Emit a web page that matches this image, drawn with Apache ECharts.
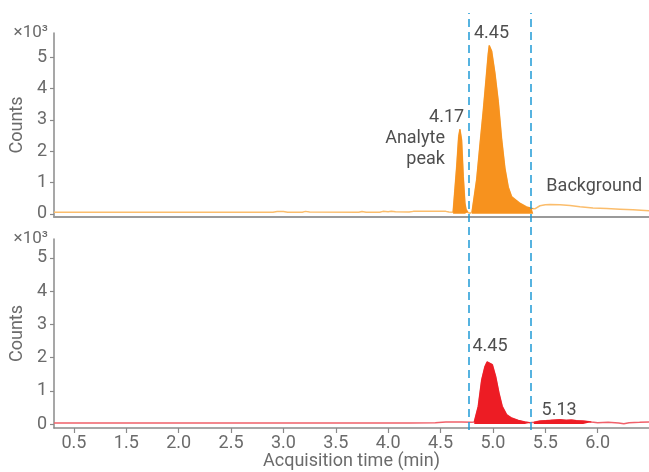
<!DOCTYPE html>
<html>
<head>
<meta charset="utf-8">
<script src="https://cdn.jsdelivr.net/npm/echarts@6/dist/echarts.min.js"></script>
<style>html,body{margin:0;padding:0;background:#fff;}#c{width:649px;height:472px;}</style>
</head>
<body>
<div id="c"></div>
<script>
// ---- data (counts in units of 10^3) ----
const topTime = [0.31,1.0,1.5,2.0,2.40,2.44,2.50,2.54,2.68,2.71,2.75,3.22,3.25,3.29,3.42,3.45,3.50,3.53,3.57,3.70,3.74,3.90,4.05,4.08,4.12,
  4.128,4.154,4.173,4.185,4.201,4.217,4.233,4.243,4.26,4.28,4.30,
  4.312,4.345,4.376,4.408,4.437,4.455,4.465,4.488,4.519,4.551,4.583,4.615,4.647,4.679,4.694,4.758,4.822,4.870,4.885,
  4.90,4.949,5.0,5.045,5.14,5.236,5.331,5.455,5.586,5.713,5.837,5.99];
const topCounts = [0.055,0.055,0.055,0.055,0.055,0.075,0.075,0.055,0.055,0.08,0.06,0.055,0.075,0.055,0.055,0.08,0.07,0.085,0.065,0.06,0.08,0.08,0.08,0.06,0.055,
  0.06,1.5,2.47,2.7,2.36,1.19,0.34,0.15,0.05,0.02,0.05,
  0.08,1.1,2.2,3.3,4.4,5.1,5.38,5.2,4.5,3.6,2.4,1.45,0.85,0.55,0.5,0.34,0.22,0.18,0.16,
  0.16,0.26,0.29,0.30,0.29,0.27,0.23,0.19,0.17,0.15,0.13,0.10];
const topFillRanges = [[4.12,4.27],[4.30,4.89]];

const botTime = [0.31,1.0,2.0,3.0,3.7,3.95,4.05,4.20,4.30,
  4.322,4.36,4.393,4.424,4.445,4.462,4.494,4.526,4.558,4.589,4.631,4.679,4.742,4.806,4.853,4.87,4.89,
  4.901,4.95,5.0,5.05,5.14,5.2,5.25,5.30,5.362,5.44,5.5,5.6,5.7,5.75,5.8,5.9,5.99];
const botCounts = [0.03,0.03,0.03,0.03,0.03,0.04,0.06,0.06,0.05,
  0.06,0.53,1.33,1.73,1.87,1.91,1.79,1.43,0.93,0.53,0.28,0.18,0.11,0.06,0.04,0.0,0.05,
  0.07,0.09,0.10,0.11,0.13,0.11,0.12,0.10,0.09,0.06,0.04,0.05,0.03,0.01,0.04,0.05,0.06];
const botFillRanges = [[4.32,4.86],[4.89,5.45]];

const windowTimes = [4.274, 4.863];

const xTickValues = [0.5,1.0,1.5,2.0,2.5,3.0,3.5,4.0,4.5,5.0,5.5];
const xTickLabels = ['0.5','1.5','2.0','2.5','3.0','3.5','4.0','4.5','5.0','5.5','6.0'];
const yTickValues = [0,1,2,3,4,5];

const topAnnText = ['4.45','4.17','Analyte\npeak','Background'];
const topAnnTime = [4.486,4.058,4.042,5.467];
const topAnnCount = [5.78,3.08,2.07,0.89];
const botAnnText = ['4.45','5.13'];
const botAnnTime = [4.472,5.132];
const botAnnCount = [2.34,0.40];

// ---- helpers ----
const pairs = (t, c) => t.map((x, i) => [x, c[i]]);
const fillPairs = (t, c, ranges) => t.map((x, i) =>
  ranges.some(r => x >= r[0] && x <= r[1]) ? [x, c[i]] : [x, '-']);
const FONT = 'Roboto, "Noto Sans", sans-serif';
const GRAY = '#6b6b6b';
const AXIS = '#8a8a8a';

function xAxisFor(gi, showLabels) {
  return {
    type: 'value', gridIndex: gi, min: 0.31, max: 5.99,
    axisLine: { show: gi !== 2, onZero: false, lineStyle: { color: showLabels ? AXIS : '#9a9a9a', width: showLabels ? 1.5 : 2 } },
    axisTick: { show: showLabels, customValues: xTickValues, length: 5, lineStyle: { color: AXIS, width: 1.2 } },
    axisLabel: { show: showLabels, customValues: xTickValues, margin: 6, color: GRAY, fontSize: 18, fontFamily: FONT,
      formatter: v => { const k = xTickValues.findIndex(x => Math.abs(x - v) < 1e-6); return k >= 0 ? xTickLabels[k] : ''; } },
    splitLine: { show: false },
    name: showLabels ? 'Acquisition time (min)' : '', nameLocation: 'middle', nameGap: 24,
    nameTextStyle: { color: GRAY, fontSize: 18, fontFamily: FONT, verticalAlign: 'top' }
  };
}
function yAxesFor(gi, min, max) {
  return [{
    type: 'value', gridIndex: gi, min: min, max: max,
    axisLine: { show: true, onZero: false, lineStyle: { color: AXIS, width: 1.5 } },
    axisTick: { show: true, customValues: yTickValues, length: 4, lineStyle: { color: AXIS, width: 1.2 } },
    axisLabel: { customValues: yTickValues, margin: 7, color: GRAY, fontSize: 18, fontFamily: FONT },
    splitLine: { show: false },
    name: '×10³', nameLocation: 'end', nameGap: 0,
    nameTextStyle: { color: GRAY, fontSize: 17, fontFamily: FONT, align: 'right', verticalAlign: 'middle', padding: [0, 6, 0, 0] }
  }, {
    type: 'value', gridIndex: gi, min: min, max: max, position: 'left',
    axisLine: { show: false }, axisTick: { show: false }, axisLabel: { show: false }, splitLine: { show: false },
    name: 'Counts', nameLocation: 'middle', nameGap: 28,
    nameTextStyle: { color: GRAY, fontSize: 18, fontFamily: FONT }
  }];
}
function annSeries(xi, yi, t, c, texts, style) {
  return {
    type: 'scatter', xAxisIndex: xi, yAxisIndex: yi, clip: false, silent: true, z: 10,
    symbolSize: 1, itemStyle: { color: 'rgba(0,0,0,0)' },
    data: t.map((x, i) => ({ value: [x, c[i]], label: style[i] || {} })),
    label: { show: true, position: 'inside', color: '#222', fontSize: 18, fontFamily: FONT, lineHeight: 21,
      formatter: p => texts[p.dataIndex] }
  };
}

const [top0, top1] = yAxesFor(0, -0.1, 5.78);
const [bot0, bot1] = yAxesFor(1, -0.12, 5.57);

const option = {
  animation: false,
  backgroundColor: '#fff',
  grid: [
    { left: 54, right: 0, top: 33, height: 184 },
    { left: 54, right: 0, top: 239, height: 189 },
    { left: 54, right: 0, top: 13, height: 417 }
  ],
  xAxis: [xAxisFor(0, false), xAxisFor(1, true), xAxisFor(2, false)],
  yAxis: [top0, top1, bot0, bot1,
    { type: 'value', gridIndex: 2, min: 0, max: 1, show: false }],
  series: [
    { type: 'line', xAxisIndex: 0, yAxisIndex: 0, data: pairs(topTime, topCounts), showSymbol: false,
      lineStyle: { color: '#fbbd6c', width: 1.5 }, z: 2 },
    { type: 'line', xAxisIndex: 0, yAxisIndex: 0, data: fillPairs(topTime, topCounts, topFillRanges), showSymbol: false,
      connectNulls: false, lineStyle: { color: '#f7921e', width: 1 }, areaStyle: { color: '#f7921e', opacity: 1 }, z: 3 },
    { type: 'line', xAxisIndex: 1, yAxisIndex: 2, data: pairs(botTime, botCounts), showSymbol: false,
      lineStyle: { color: '#f0606a', width: 1.5 }, z: 2 },
    { type: 'line', xAxisIndex: 1, yAxisIndex: 2, data: fillPairs(botTime, botCounts, botFillRanges), showSymbol: false,
      connectNulls: false, lineStyle: { color: '#ed1c24', width: 1 }, areaStyle: { color: '#ed1c24', opacity: 1 }, z: 3 },
    { type: 'line', xAxisIndex: 2, yAxisIndex: 4, data: [], z: 5,
      markLine: { silent: true, symbol: 'none', label: { show: false },
        lineStyle: { color: '#1f9ad6', type: [8, 5], width: 1.5 },
        data: windowTimes.map(t => ({ xAxis: t })) } },
    annSeries(0, 0, topAnnTime, topAnnCount, topAnnText, [null, null, { align: 'right' }, null]),
    annSeries(1, 2, botAnnTime, botAnnCount, botAnnText, [])
  ]
};
const chart = echarts.init(document.getElementById('c'), null, { renderer: 'canvas' });
chart.setOption(option);
</script>
</body>
</html>
